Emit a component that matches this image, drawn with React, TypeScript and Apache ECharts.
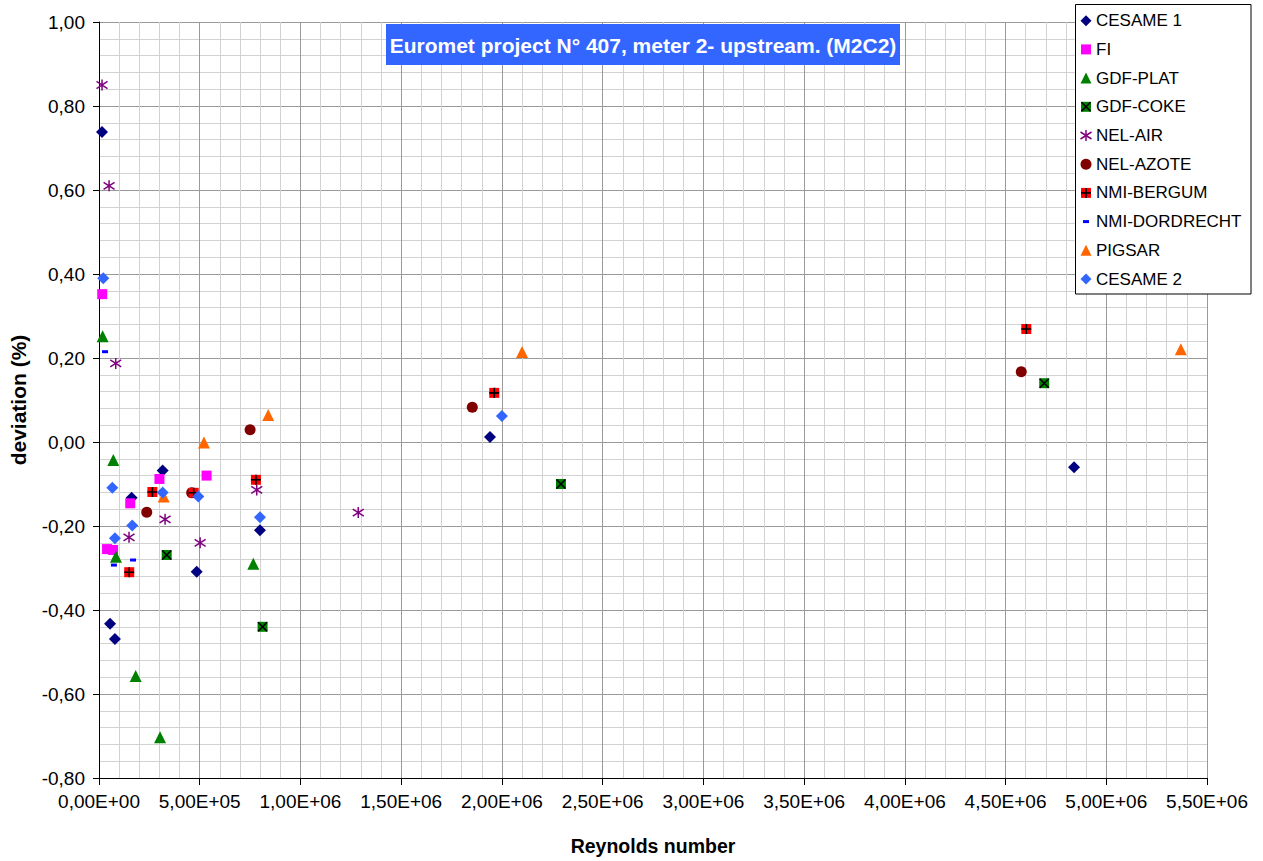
import React, { useEffect, useRef } from "react";
import * as echarts from "echarts";

// ---- data (Reynolds number, deviation %) ----
const cesame1: number[][] = [
  [15000, 0.738], [55000, -0.433], [79000, -0.469], [162000, -0.133], [316000, -0.068],
  [485000, -0.309], [799000, -0.21], [1941000, 0.012], [4840000, -0.06],
];
const fi: number[][] = [
  [16000, 0.352], [40000, -0.255], [70000, -0.257], [155000, -0.146], [300000, -0.088], [534000, -0.08],
];
const gdfPlat: number[][] = [
  [18000, 0.252], [71000, -0.043], [84000, -0.273], [182000, -0.557], [303000, -0.703], [766000, -0.29],
];
const gdfCoke: number[][] = [
  [336000, -0.269], [812000, -0.44], [2293000, -0.1], [4692000, 0.14],
];
const nelAir: number[][] = [
  [15000, 0.85], [50000, 0.61], [83000, 0.187], [149000, -0.227], [328000, -0.184],
  [502000, -0.24], [783000, -0.114], [1287000, -0.168],
];
const nelAzote: number[][] = [
  [237000, -0.167], [460000, -0.121], [750000, 0.029], [1853000, 0.083], [4578000, 0.167],
];
const nmiBergum: number[][] = [
  [150000, -0.31], [265000, -0.119], [470000, -0.121], [779000, -0.09], [1962000, 0.117], [4603000, 0.269],
];
const nmiDordrecht: number[][] = [
  [30000, 0.215], [74000, -0.293], [169000, -0.281],
];
const pigsar: number[][] = [
  [321000, -0.13], [521000, -0.001], [840000, 0.064], [2100000, 0.214], [5370000, 0.221],
];
const cesame2: number[][] = [
  [21000, 0.39], [66000, -0.109], [79000, -0.229], [165000, -0.199], [316000, -0.12],
  [493000, -0.13], [799000, -0.179], [2000000, 0.062],
];

const seriesNames = [
  "CESAME 1", "FI", "GDF-PLAT", "GDF-COKE", "NEL-AIR",
  "NEL-AZOTE", "NMI-BERGUM", "NMI-DORDRECHT", "PIGSAR", "CESAME 2",
];

const xMin = 0, xMax = 5500000, xStep = 500000;
const yMin = -0.8, yMax = 1.0, yStep = 0.2;

const titleText = "Euromet project N\u00b0 407, meter 2- upstream. (M2C2)";
const xTitle = "Reynolds number";
const yTitle = "deviation (%)";

const FONT = "'Liberation Sans', Arial, sans-serif";

const ASTERISK = "path://M5,0L5,10M0,1.8L10,8.2M10,1.8L0,8.2";
const CROSS = "path://M0,0L10,10M10,0L0,10";
const PLUS = "path://M5,0L5,10M0,5L10,5";

function fmtX(v: number): string {
  if (Math.abs(v) < 1e-9) return "0,00E+00";
  const e = Math.floor(Math.log10(Math.abs(v)) + 1e-9);
  const m = v / Math.pow(10, e);
  const es = (e < 0 ? "-" : "+") + String(Math.abs(e)).padStart(2, "0");
  return m.toFixed(2).replace(".", ",") + "E" + es;
}
function fmtY(v: number): string {
  if (Math.abs(v) < 1e-9) return "0,00";
  return v.toFixed(2).replace(".", ",");
}

export default function App() {
  const ref = useRef<HTMLDivElement>(null);
  useEffect(() => {
    if (!ref.current) return;
    const chart = echarts.init(ref.current, undefined, { renderer: "svg" });

    const mk = (name: string, data: number[][], symbol: string, size: any, color: string, extra: any = {}) => ({
      type: "scatter",
      name,
      data,
      symbol,
      symbolSize: size,
      itemStyle: { color, opacity: 1, ...extra },
      emphasis: { disabled: true },
      silent: true,
    });

    const series: any[] = [
      mk("CESAME 1", cesame1, "diamond", 12, "#000080"),
      mk("FI", fi, "rect", 10, "#FF00FF"),
      mk("GDF-PLAT", gdfPlat, "triangle", 12, "#008000"),
      mk("GDF-COKE", gdfCoke, "rect", 10, "#008000"),
      mk("GDF-COKE x", gdfCoke, CROSS, 9, "rgba(0,0,0,0)", { borderColor: "#000000", borderWidth: 1.6 }),
      mk("NEL-AIR", nelAir, ASTERISK, 11, "rgba(0,0,0,0)", { borderColor: "#800080", borderWidth: 1.5 }),
      mk("NEL-AZOTE", nelAzote, "circle", 11, "#800000"),
      mk("NMI-BERGUM", nmiBergum, "rect", 10, "#FF0000"),
      mk("NMI-BERGUM +", nmiBergum, PLUS, 10, "rgba(0,0,0,0)", { borderColor: "#000000", borderWidth: 1.6 }),
      mk("NMI-DORDRECHT", nmiDordrecht, "rect", [6, 3], "#0000FF"),
      mk("PIGSAR", pigsar, "triangle", 12, "#FF6600"),
      mk("CESAME 2", cesame2, "diamond", 12, "#3366FF"),
    ];

    // legend drawn with graphic elements
    const lx = 1086, tx = 1096, ly0 = 20.7, lstep = 28.7;
    const legendEls: any[] = [
      {
        type: "rect",
        shape: { x: 1075.5, y: 4.5, width: 175.5, height: 289.5 },
        style: { fill: "#ffffff", stroke: "#000000", lineWidth: 1 },
        z: 10,
      },
    ];
    const sym = (i: number): any[] => {
      const y = ly0 + i * lstep;
      const r = 5;
      switch (i) {
        case 0:
        case 9:
          return [{ type: "polygon", shape: { points: [[lx, y - 5.5], [lx + 5.5, y], [lx, y + 5.5], [lx - 5.5, y]] }, style: { fill: i === 0 ? "#000080" : "#3366FF" } }];
        case 1:
          return [{ type: "rect", shape: { x: lx - r, y: y - r, width: 10, height: 10 }, style: { fill: "#FF00FF" } }];
        case 2:
        case 8:
          return [{ type: "polygon", shape: { points: [[lx, y - 5.5], [lx + 5.5, y + 5.5], [lx - 5.5, y + 5.5]] }, style: { fill: i === 2 ? "#008000" : "#FF6600" } }];
        case 3:
          return [
            { type: "rect", shape: { x: lx - r, y: y - r, width: 10, height: 10 }, style: { fill: "#008000" } },
            { type: "line", shape: { x1: lx - 4.5, y1: y - 4.5, x2: lx + 4.5, y2: y + 4.5 }, style: { stroke: "#000", lineWidth: 1.6 } },
            { type: "line", shape: { x1: lx + 4.5, y1: y - 4.5, x2: lx - 4.5, y2: y + 4.5 }, style: { stroke: "#000", lineWidth: 1.6 } },
          ];
        case 4:
          return [
            { type: "line", shape: { x1: lx, y1: y - 5.5, x2: lx, y2: y + 5.5 }, style: { stroke: "#800080", lineWidth: 1.5 } },
            { type: "line", shape: { x1: lx - 5.5, y1: y - 3.5, x2: lx + 5.5, y2: y + 3.5 }, style: { stroke: "#800080", lineWidth: 1.5 } },
            { type: "line", shape: { x1: lx + 5.5, y1: y - 3.5, x2: lx - 5.5, y2: y + 3.5 }, style: { stroke: "#800080", lineWidth: 1.5 } },
          ];
        case 5:
          return [{ type: "circle", shape: { cx: lx, cy: y, r: 5.5 }, style: { fill: "#800000" } }];
        case 6:
          return [
            { type: "rect", shape: { x: lx - r, y: y - r, width: 10, height: 10 }, style: { fill: "#FF0000" } },
            { type: "line", shape: { x1: lx, y1: y - 5, x2: lx, y2: y + 5 }, style: { stroke: "#000", lineWidth: 1.6 } },
            { type: "line", shape: { x1: lx - 5, y1: y, x2: lx + 5, y2: y }, style: { stroke: "#000", lineWidth: 1.6 } },
          ];
        case 7:
          return [{ type: "rect", shape: { x: lx - 3, y: y - 1.5, width: 6, height: 3 }, style: { fill: "#0000FF" } }];
      }
      return [];
    };
    seriesNames.forEach((n, i) => {
      sym(i).forEach((e) => legendEls.push({ ...e, z: 11 }));
      legendEls.push({
        type: "text",
        x: tx,
        y: ly0 + i * lstep,
        z: 11,
        style: {
          text: n,
          fill: "#000000",
          font: `17px ${FONT}`,
          textAlign: "left",
          textVerticalAlign: "middle",
          align: "left",
          verticalAlign: "middle",
        },
      });
    });

    const option: any = {
      animation: false,
      backgroundColor: "#ffffff",
      grid: { left: 99, right: 56, top: 22, bottom: 83, containLabel: false },
      xAxis: {
        type: "value",
        min: xMin,
        max: xMax,
        interval: xStep,
        name: xTitle,
        nameLocation: "middle",
        nameGap: 58,
        nameTextStyle: { color: "#000", fontSize: 19.5, fontWeight: "bold", fontFamily: FONT },
        axisLine: { show: true, onZero: false, lineStyle: { color: "#000", width: 1 } },
        axisTick: { show: true, inside: false, length: 7, lineStyle: { color: "#000" } },
        axisLabel: { color: "#000", fontSize: 19, fontFamily: FONT, margin: 14, formatter: fmtX, showMinLabel: true, showMaxLabel: true },
        splitLine: { show: true, lineStyle: { color: "#9a9a9a", width: 1 } },
        minorTick: { show: false, splitNumber: 5 },
        minorSplitLine: { show: true, lineStyle: { color: "#d2d2d2", width: 1 } },
      },
      yAxis: {
        type: "value",
        min: yMin,
        max: yMax,
        interval: yStep,
        name: yTitle,
        nameLocation: "middle",
        nameGap: 70,
        nameTextStyle: { color: "#000", fontSize: 21, fontWeight: "bold", fontFamily: FONT },
        axisLine: { show: true, onZero: false, lineStyle: { color: "#000", width: 1 } },
        axisTick: { show: true, inside: false, length: 6, lineStyle: { color: "#000" } },
        axisLabel: { color: "#000", fontSize: 19, fontFamily: FONT, margin: 14, formatter: fmtY, showMinLabel: true, showMaxLabel: true },
        splitLine: { show: true, lineStyle: { color: "#9a9a9a", width: 1 } },
        minorTick: { show: false, splitNumber: 5 },
        minorSplitLine: { show: true, lineStyle: { color: "#d2d2d2", width: 1 } },
      },
      series,
      graphic: [
        {
          type: "rect",
          shape: { x: 386, y: 24, width: 514, height: 41 },
          style: { fill: "#3366FF" },
          z: 10,
        },
        {
          type: "text",
          x: 643,
          y: 45,
          z: 11,
          style: {
            text: titleText,
            fill: "#ffffff",
            font: `bold 21px ${FONT}`,
            textAlign: "center",
            textVerticalAlign: "middle",
            align: "center",
            verticalAlign: "middle",
          },
        },
        ...legendEls,
      ],
    };
    chart.setOption(option);
    return () => chart.dispose();
  }, []);

  return (
    <div
      ref={ref}
      style={{ position: "fixed", left: 0, top: 0, width: 1263, height: 861, background: "#fff" }}
    />
  );
}
